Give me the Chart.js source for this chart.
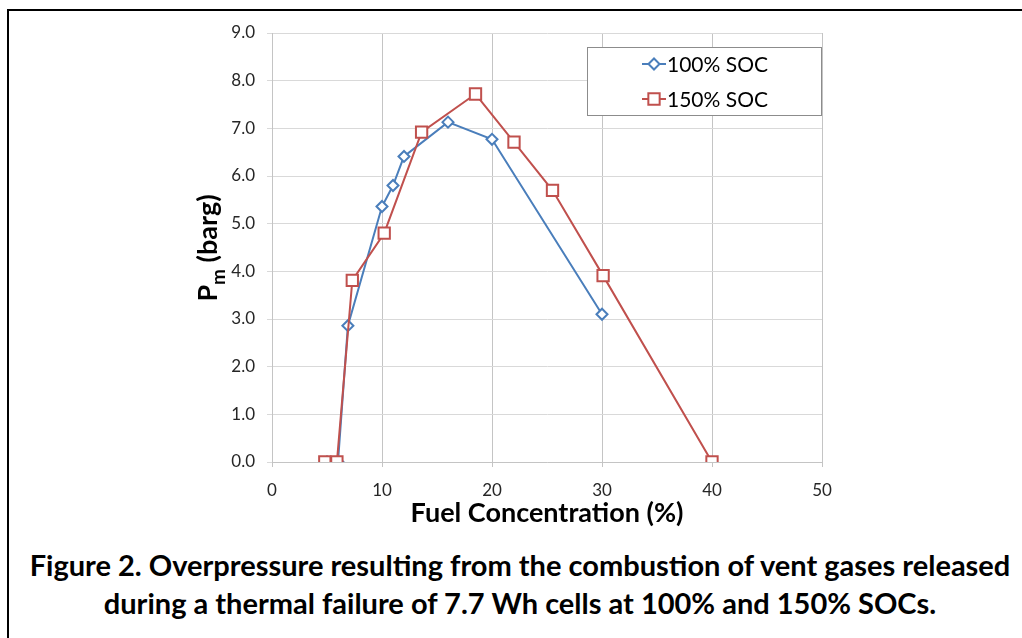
<!DOCTYPE html>
<html>
<head>
<meta charset="utf-8">
<script src="https://cdn.jsdelivr.net/npm/chart.js@4"></script>
<style>
  html, body { margin: 0; padding: 0; background: #fff; width: 1022px; height: 638px; overflow: hidden; }
  #frame { position: absolute; left: 7px; top: 9px; width: 1100px; height: 700px; border-top: 2px solid #000; border-left: 2px solid #000; }
  #wrap { position: absolute; left: 0; top: 0; width: 1022px; height: 530px; }
  #caption { position: absolute; left: 0; top: 546px; width: 1040px; text-align: center; white-space: nowrap;
             font-family: Lato, sans-serif; font-weight: bold; font-size: 29px; line-height: 38px; color: #000; }
</style>
</head>
<body>
<div id="frame"></div>
<div id="wrap"><canvas id="chart" width="1022" height="530"></canvas></div>
<div id="caption">Figure 2. Overpressure resulting from the combustion of vent gases released<br>during a thermal failure of 7.7 Wh cells at 100% and 150% SOCs.</div>
<script>
const $ = id => document.getElementById(id);

// data
const soc100X = [5.0, 6.0, 6.9, 10.0, 11.0, 12.0, 16.0, 20.0, 30.0];
const soc100Y = [0.0, 0.0, 2.86, 5.36, 5.80, 6.41, 7.13, 6.77, 3.10];
const soc150X = [4.8, 5.9, 7.3, 10.2, 13.6, 18.5, 22.0, 25.5, 30.1, 40.0];
const soc150Y = [0.0, 0.0, 3.81, 4.80, 6.92, 7.72, 6.71, 5.70, 3.91, 0.0];
const seriesNames = ["100% SOC", "150% SOC"];
const xTicks = [0, 10, 20, 30, 40, 50];
const yTicks = [0, 1, 2, 3, 4, 5, 6, 7, 8, 9];
const xTitle = "Fuel Concentration (%)";

const blue = "#4a7ebb";
const red = "#c0504d";
const pts = (xs, ys) => xs.map((x, i) => ({ x, y: ys[i] }));

// axis titles + legend box inside the plot
const extras = {
  id: "extras",
  afterDraw(chart) {
    const ctx = chart.ctx;
    const area = chart.chartArea;

    // x title
    ctx.save();
    ctx.fillStyle = "#000";
    ctx.font = "bold 27px Lato";
    ctx.textAlign = "center";
    ctx.textBaseline = "middle";
    ctx.fillText(xTitle, (area.left + area.right) / 2, 513);
    ctx.restore();

    // y title: P with subscript m
    ctx.save();
    ctx.fillStyle = "#000";
    ctx.translate(217, 248);
    ctx.rotate(-Math.PI / 2);
    ctx.textAlign = "left";
    ctx.textBaseline = "alphabetic";
    const big = "bold 27px Lato", small = "bold 19px Lato";
    ctx.font = big;
    const wP = ctx.measureText("P").width;
    const wRest = ctx.measureText(" (barg)").width;
    ctx.font = small;
    const wm = ctx.measureText("m").width;
    const x0 = -(wP + wm + wRest) / 2;
    ctx.font = big;
    ctx.fillText("P", x0, 0);
    ctx.font = small;
    ctx.fillText("m", x0 + wP, 8);
    ctx.font = big;
    ctx.fillText(" (barg)", x0 + wP + wm, 0);
    ctx.restore();

    // legend
    ctx.save();
    ctx.fillStyle = "#fff";
    ctx.fillRect(587, 47, 235, 69);
    ctx.strokeStyle = "#8c8c8c";
    ctx.lineWidth = 1;
    ctx.strokeRect(587.5, 47.5, 234, 68);
    const rows = [64, 99];
    const byRow = chart.data.datasets.slice().sort((a, b) => a.legendRow - b.legendRow);
    byRow.forEach((ds, i) => {
      const y = rows[i];
      ctx.strokeStyle = ds.borderColor;
      ctx.lineWidth = 2;
      ctx.beginPath();
      ctx.moveTo(642, y);
      ctx.lineTo(666, y);
      ctx.stroke();
      ctx.fillStyle = "#fff";
      Chart.helpers.drawPoint(ctx, {
        pointStyle: ds.pointStyle, radius: ds.pointRadius, borderWidth: ds.pointBorderWidth, rotation: 0
      }, 654, y);
      ctx.fillStyle = "#000";
      ctx.font = "21px Lato";
      ctx.textAlign = "left";
      ctx.textBaseline = "middle";
      ctx.fillText(ds.label, 667, y + 1);
    });
    ctx.restore();
  }
};

new Chart($("chart"), {
  type: "line",
  data: {
    datasets: [
      {
        label: seriesNames[1],
        legendRow: 1,
        data: pts(soc150X, soc150Y),
        borderColor: red,
        backgroundColor: "#fff",
        borderWidth: 2,
        pointStyle: "rect",
        pointRadius: 8,
        pointBorderWidth: 2,
        pointBackgroundColor: "#fff",
        pointBorderColor: red,
        tension: 0,
        order: 0
      },
      {
        label: seriesNames[0],
        legendRow: 0,
        data: pts(soc100X, soc100Y),
        borderColor: blue,
        backgroundColor: "#fff",
        borderWidth: 2,
        pointStyle: "rectRot",
        pointRadius: 5.5,
        pointBorderWidth: 2,
        pointBackgroundColor: "#fff",
        pointBorderColor: blue,
        tension: 0,
        order: 1
      }
    ]
  },
  options: {
    responsive: false,
    animation: false,
    layout: { padding: { top: 33, right: 200, left: 0, bottom: 0 } },
    plugins: { legend: { display: false }, tooltip: { enabled: false } },
    scales: {
      x: {
        type: "linear",
        min: xTicks[0],
        max: xTicks[xTicks.length - 1],
        afterFit: s => { s.height = 68; },
        afterBuildTicks: s => { s.ticks = xTicks.map(v => ({ value: v })); },
        grid: { color: "#c4c4c4", tickLength: 5 },
        border: { color: "#c4c4c4" },
        ticks: { color: "#262626", font: { family: "Lato", size: 17 }, padding: 13 }
      },
      y: {
        min: yTicks[0],
        max: yTicks[yTicks.length - 1],
        afterFit: s => { s.width = 272; },
        afterBuildTicks: s => { s.ticks = yTicks.map(v => ({ value: v })); },
        grid: { color: "#d9d9d9", tickLength: 5 },
        border: { color: "#c4c4c4" },
        ticks: { color: "#262626", font: { family: "Lato", size: 17 }, padding: 12,
                 callback: v => v.toFixed(1) }
      }
    }
  },
  plugins: [extras]
});
</script>
</body>
</html>
